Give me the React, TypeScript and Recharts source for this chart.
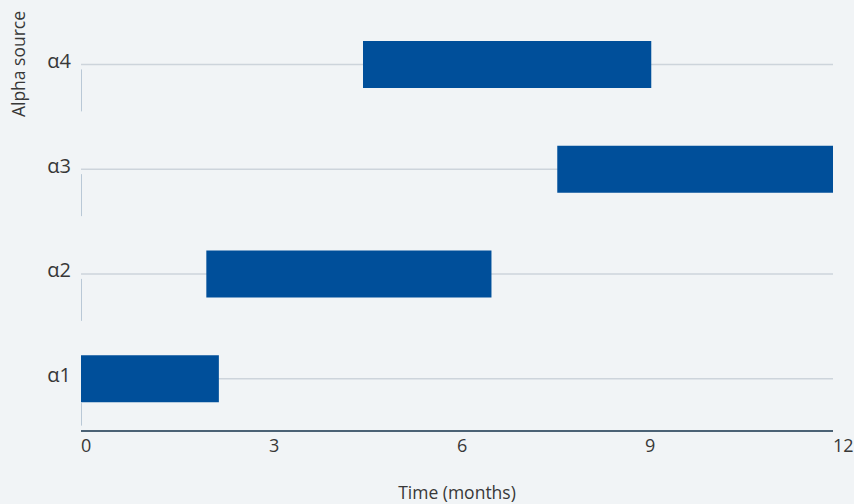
import React from 'react';
import { BarChart, Bar, XAxis, YAxis, CartesianGrid } from 'recharts';

const categories = ['α4', 'α3', 'α2', 'α1'];
const startMonths = [4.5, 7.6, 2, 0];
const endMonths = [9.1, 12, 6.55, 2.2];
const xTicks = [0, 3, 6, 9, 12];
const xLabel = 'Time (months)';
const yLabel = 'Alpha source';

const data = categories.map((c, i) => ({ name: c, range: [startMonths[i], endMonths[i]] }));

const FONT = '"Open Sans", sans-serif';
const TEXT = '#383838';
const BAR_SIZE = 47;

const YTick = (props: any) => {
  const { x, y, payload } = props;
  const idx = categories.indexOf(payload.value);
  const coveredByBar = idx >= 0 && startMonths[idx] === 0;
  const y1 = coveredByBar ? y + BAR_SIZE / 2 + 1 : y + 5;
  return (
    <g>
      <text x={71} y={y - 4} textAnchor="end" dominantBaseline="central" fontFamily={FONT} fontSize={20} fill={TEXT}>
        {payload.value}
      </text>
      <line x1={81.5} x2={81.5} y1={y1} y2={y + 47} stroke="#b9c8d6" strokeWidth={1} />
    </g>
  );
};

const YLabel = () => (
  <text
    x={18}
    y={64}
    textAnchor="middle"
    dominantBaseline="central"
    transform="rotate(-90, 18, 64)"
    fontFamily={FONT}
    fontSize={17.5}
    fill={TEXT}
  >
    {yLabel}
  </text>
);

export default function App() {
  return (
    <div style={{ position: 'absolute', left: 0, top: 0, width: 854, height: 504, background: '#f1f4f6' }}>
      <BarChart
        width={854}
        height={504}
        data={data}
        layout="vertical"
        margin={{ top: 12, right: 21, bottom: 0, left: 0 }}
        barSize={BAR_SIZE}
      >
        <CartesianGrid horizontal vertical={false} syncWithTicks stroke="#cdd4db" strokeWidth={1.5} />
        <XAxis
          type="number"
          domain={[0, 12]}
          ticks={xTicks}
          height={73}
          axisLine={{ stroke: '#4b6275', strokeWidth: 2 }}
          tickLine={false}
          tick={{ textAnchor: 'start', fill: TEXT, fontSize: 18, fontFamily: FONT }}
          label={{ value: xLabel, position: 'insideBottom', offset: 5, fill: TEXT, fontSize: 17.5, fontFamily: FONT }}
        />
        <YAxis
          type="category"
          dataKey="name"
          width={81}
          axisLine={false}
          tickLine={false}
          tick={<YTick />}
          label={<YLabel />}
        />
        <Bar dataKey="range" fill="#004f9a" isAnimationActive={false} />
      </BarChart>
    </div>
  );
}
